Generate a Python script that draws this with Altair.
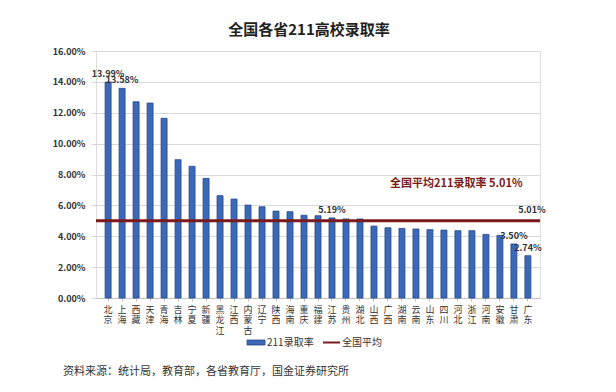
import altair as alt
import pandas as pd

provinces = ["北京", "上海", "西藏", "天津", "青海", "吉林", "宁夏", "新疆", "黑龙江", "江西",
             "内蒙古", "辽宁", "陕西", "海南", "重庆", "福建", "江苏", "贵州", "湖北", "山西",
             "广西", "湖南", "云南", "山东", "四川", "河北", "浙江", "河南", "安徽", "甘肃", "广东"]
rates = [13.99, 13.58, 12.71, 12.63, 11.64, 8.96, 8.53, 7.75, 6.63, 6.41,
         6.02, 5.91, 5.63, 5.59, 5.36, 5.33, 5.19, 5.12, 5.12, 4.66,
         4.55, 4.51, 4.47, 4.43, 4.40, 4.36, 4.36, 4.12, 4.06, 3.50, 2.74]
labelled = ["北京", "上海", "江苏", "甘肃", "广东"]
national_avg = 5.01
y_ticks = [0, 2, 4, 6, 8, 10, 12, 14, 16]

title_text = "全国各省211高校录取率"
avg_note = "全国平均211录取率 5.01%"
source_text = "资料来源：统计局，教育部，各省教育厅，国金证券研究所"
legend_bar = "211录取率"
legend_line = "全国平均"

BLUE = "#3c68b8"
BLUE_EDGE = "#28498a"
RED = "#7a1a1a"
FONT = "Noto Sans CJK SC"

df = pd.DataFrame({"province": provinces, "rate": rates})
df["label"] = [f"{r:.2f}%" if p in labelled else "" for p, r in zip(provinces, rates)]
lab_df = df[df["label"] != ""]

xscale = alt.Scale(paddingInner=0.57, paddingOuter=0.65)
xaxis = alt.Axis(title=None, labelAngle=0, labelExpr="split(datum.label, '')",
                 labelFont=FONT, labelFontSize=9, labelLineHeight=10.5,
                 labelColor="#333333", labelPadding=4, labelBaseline="top",
                 labelOverlap=False,
                 domainColor="#bfbfbf", tickColor="#bfbfbf", tickSize=3, ticks=True)
yscale = alt.Scale(domain=[0, 16], nice=False, zero=True)
yaxis = alt.Axis(title=None, values=y_ticks,
                 labelExpr="format(datum.value, '.2f') + '%'",
                 labelFont=FONT, labelFontSize=9, labelFontWeight="bold", labelColor="#333333",
                 labelPadding=6, tickSize=5, tickColor="#d9d9d9", domain=False,
                 labelOverlap=False, labelFlush=False,
                 gridColor="#d9d9d9", gridWidth=1)


def X():
    return alt.X("province:N", sort=provinces, scale=xscale, axis=xaxis)


def Y(field):
    return alt.Y(field, scale=yscale, axis=yaxis)


bars = alt.Chart(df).mark_bar(color=BLUE, stroke=BLUE_EDGE, strokeWidth=0.8).encode(
    x=X(), y=Y("rate:Q"))

labels = alt.Chart(lab_df).mark_text(font=FONT, fontSize=9, fontWeight="bold", color="#333333",
                                     baseline="bottom", dy=-3).encode(
    x=X(), y=Y("rate:Q"), text="label:N")

avg_df = pd.DataFrame({"avg": [national_avg], "province": [provinces[-1]],
                       "txt": [f"{national_avg:.2f}%"]})
rule = alt.Chart(avg_df).mark_rule(color=RED, strokeWidth=3).encode(y=Y("avg:Q"))
avg_lab = alt.Chart(avg_df).mark_text(font=FONT, fontSize=9, fontWeight="bold", color="#333333",
                                      baseline="bottom", dy=-6, dx=4).encode(
    x=X(), y=Y("avg:Q"), text="txt:N")

note = alt.Chart(pd.DataFrame({"t": [avg_note]})).mark_text(
    font=FONT, fontSize=11, fontWeight="bold", color=RED, align="left", baseline="middle").encode(
    x=alt.value(294), y=alt.value(133), text="t:N")

title = alt.Chart(pd.DataFrame({"t": [title_text]})).mark_text(
    font=FONT, fontSize=15, fontWeight="bold", color="#222222", align="center", baseline="middle").encode(
    x=alt.value(213), y=alt.value(-21), text="t:N")

leg_rect = alt.Chart(pd.DataFrame({"a": [0]})).mark_rect(color=BLUE, stroke=BLUE_EDGE, strokeWidth=0.8).encode(
    x=alt.value(151), x2=alt.value(169), y=alt.value(289), y2=alt.value(294))
leg_t1 = alt.Chart(pd.DataFrame({"t": [legend_bar]})).mark_text(
    font=FONT, fontSize=10, color="#333333", align="left", baseline="middle").encode(
    x=alt.value(171), y=alt.value(291.5), text="t:N")
leg_rule = alt.Chart(pd.DataFrame({"a": [0]})).mark_rule(color=RED, strokeWidth=2).encode(
    x=alt.value(227), x2=alt.value(244), y=alt.value(291.5))
leg_t2 = alt.Chart(pd.DataFrame({"t": [legend_line]})).mark_text(
    font=FONT, fontSize=10, color="#333333", align="left", baseline="middle").encode(
    x=alt.value(246), y=alt.value(291.5), text="t:N")

src = alt.Chart(pd.DataFrame({"t": [source_text]})).mark_text(
    font=FONT, fontSize=11, color="#333333", align="left", baseline="middle").encode(
    x=alt.value(-33), y=alt.value(321), text="t:N")

chart = alt.layer(bars, rule, labels, avg_lab, note, title, leg_rect, leg_t1, leg_rule, leg_t2, src).properties(
    width=444, height=247,
    autosize=alt.AutoSizeParams(type="none"),
    padding={"left": 88, "top": 43, "right": 68, "bottom": 86},
).configure_view(stroke=None).configure(background="white")

chart.save("out.html", embed_options={"renderer": "svg", "actions": False})
